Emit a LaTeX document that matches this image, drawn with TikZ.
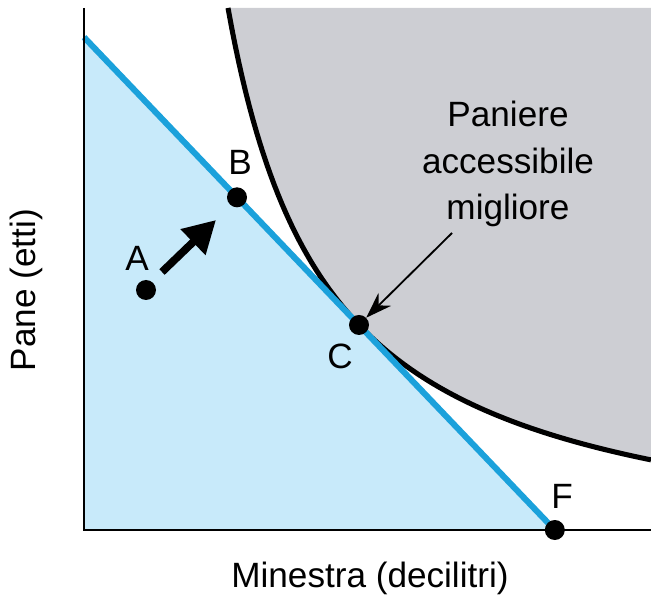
\documentclass[tikz,border=0pt]{standalone}
\usepackage{fontspec}
\setmainfont{Liberation Sans}
\usetikzlibrary{arrows.meta,positioning}
\definecolor{budgetblue}{RGB}{27,161,219}
\definecolor{setblue}{RGB}{200,234,250}
\definecolor{prefgray}{RGB}{205,206,211}

\begin{document}
\begin{tikzpicture}[every node/.style={font=\fontsize{25}{33}\selectfont},
    dot/.style={circle, fill=black, inner sep=0pt, minimum size=0.5cm}]
    \useasboundingbox (-2.1,-1.725) rectangle (14.175,13.25);
    % regions
    \fill[setblue] (0,0) -- (0,12.32) -- (11.77,0) -- cycle;
    \fill[prefgray] plot[domain=3.6:14.175, samples=120] (\x,{34.84/(\x-1.105)-0.9125}) -- (14.175,13.05) -- cycle;
    % indifference curve and budget line
    \draw[line width=3.6pt] plot[domain=3.6:14.175, samples=120] (\x,{34.84/(\x-1.105)-0.9125});
    \draw[budgetblue, line width=4.3pt] (0,12.32) -- (11.77,0);
    % axes
    \draw[line width=1.4pt] (0,13.05) -- (0,0) -- (14.175,0);
    % baskets
    \node[dot] (A) at (1.55,6.0) {};
    \node[dot] (B) at (3.825,8.317) {};
    \node[dot] (C) at (6.875,5.126) {};
    \node[dot] (F) at (11.77,0) {};
    \node (lA) at (1.325,6.8) {A};
    \node (lB) at (3.9,9.2) {B};
    \node (lC) at (6.4,4.35) {C};
    \node (lF) at (11.95,0.85) {F};
    \coordinate (a0) at (1.95,6.45);
    \coordinate (a1) at (3.3,7.75);
    \draw[line width=5.5pt, -{Triangle[length=0.8cm, width=0.85cm]}] (a0) -- (a1);
    \node[align=center] (best) at (10.6,9.15) {Paniere\\accessibile\\migliore};
    \coordinate (p0) at (9.2,7.425);
    \draw[line width=1.3pt, -{Stealth[length=0.65cm, width=0.45cm]}] (p0) -- (C.north east);
    % axis labels
    \node (xlab) at (7.15,-1.2) {Minestra (decilitri)};
    \node[rotate=90] (ylab) at (-1.45,6.0) {Pane (etti)};
\end{tikzpicture}
\end{document}
